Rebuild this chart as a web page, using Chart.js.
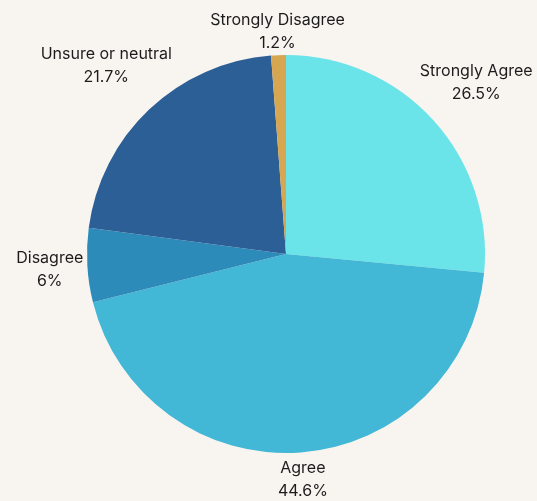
<!DOCTYPE html>
<html>
<head>
<meta charset="utf-8">
<script src="https://cdn.jsdelivr.net/npm/chart.js@4/dist/chart.umd.min.js"></script>
<style>
  html, body { margin: 0; padding: 0; background: #f8f4f0; }
  #wrap { width: 537px; height: 501px; }
</style>
</head>
<body>
<div id="wrap"><canvas id="pie"></canvas></div>
<script>
const labels = ['Strongly Agree', 'Agree', 'Disagree', 'Unsure or neutral', 'Strongly Disagree']
const values = [26.5, 44.6, 6, 21.7, 1.2]
const colors = ['#6ae4e9', '#42b7d6', '#2d8bba', '#2d5f97', '#d6a650']

// puts "name / pct" outside each slice, pushed out along the slice's middle
const outsideLabels = {
    id: 'outsideLabels',
    afterDatasetsDraw(chart) {
        const ctx = chart.ctx
        const meta = chart.getDatasetMeta(0)
        ctx.save()
        ctx.font = '16px Inter, "Noto Sans", sans-serif'
        ctx.fillStyle = '#1c1c1c'
        ctx.textAlign = 'center'
        ctx.textBaseline = 'middle'
        const lineH = 23
        meta.data.forEach((arc, i) => {
            const mid = (arc.startAngle + arc.endAngle) / 2
            const dx = Math.cos(mid)
            const dy = Math.sin(mid)
            const line1 = labels[i]
            const line2 = values[i] + '%'
            const w = Math.max(ctx.measureText(line1).width, ctx.measureText(line2).width)
            const h = 40
            const dist = arc.outerRadius + 3 + Math.abs(dx) * w / 2 + Math.abs(dy) * h / 2
            const x = arc.x + dx * dist
            const y = arc.y + dy * dist + 2
            ctx.fillText(line1, x, y - lineH / 2)
            ctx.fillText(line2, x, y + lineH / 2)
        })
        ctx.restore()
    }
}

new Chart(document.getElementById('pie').getContext('2d'), {
    type: 'pie',
    data: {
        labels: labels,
        datasets: [{
            data: values,
            backgroundColor: colors,
            borderWidth: 0
        }]
    },
    options: {
        responsive: true,
        maintainAspectRatio: false,
        animation: false,
        layout: { padding: { top: 55, bottom: 48, left: 87, right: 52 } },
        plugins: {
            legend: { display: false },
            tooltip: { enabled: false }
        }
    },
    plugins: [outsideLabels]
})
</script>
</body>
</html>
